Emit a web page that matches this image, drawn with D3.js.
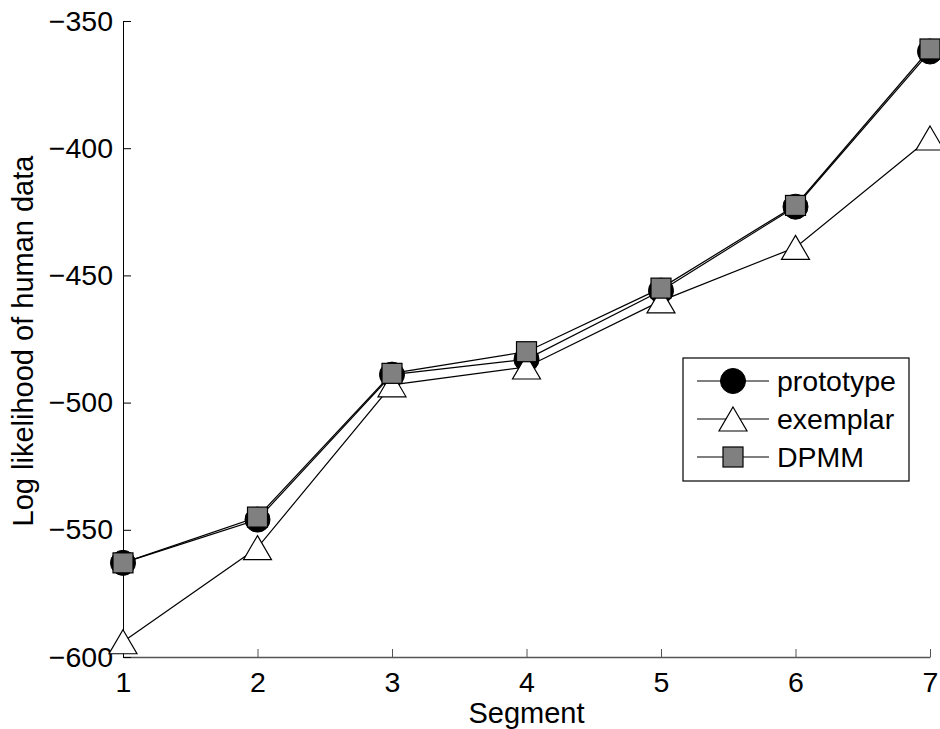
<!DOCTYPE html>
<html>
<head>
<meta charset="utf-8">
<script src="https://d3js.org/d3.v7.min.js"></script>
<style>
  body { margin: 0; background: #fff; }
  text { font-family: "Liberation Sans", Arial, Helvetica, sans-serif; fill: #000; }
</style>
</head>
<body>
<div id="chart"></div>
<script>
const segments = [1, 2, 3, 4, 5, 6, 7]
const prototype = [-563, -546, -489, -483, -456, -423, -362]
const exemplar = [-594, -557, -493, -486, -460, -439, -396]
const dpmm = [-563, -545, -488.5, -480, -455, -422.5, -361]
const yTicks = [-600, -550, -500, -450, -400, -350]
const seriesNames = ["prototype", "exemplar", "DPMM"]

const W = 940, H = 729
const margin = {top: 21, right: 10, bottom: 72, left: 123}
const fontSize = "28.5px"

const svg = d3.select("#chart").append("svg")
  .attr("width", W)
  .attr("height", H)

const x = d3.scaleLinear().domain([1, 7]).range([margin.left, W - margin.right])
const y = d3.scaleLinear().domain([-600, -350]).range([H - margin.bottom, margin.top])

// marker shapes, drawn around (0,0)
const markers = {
  circle: g => g.append("circle").attr("r", 12.5).attr("fill", "#000").attr("stroke", "#000"),
  triangle: g => g.append("path").attr("d", "M0,-12L14,12L-14,12Z")
    .attr("fill", "#fff").attr("stroke", "#000").attr("stroke-width", 1.2),
  square: g => g.append("rect").attr("x", -10).attr("y", -10).attr("width", 20).attr("height", 20)
    .attr("fill", "#808080").attr("stroke", "#000").attr("stroke-width", 1.2)
}

const series = [
  {name: seriesNames[0], values: prototype, marker: "circle"},
  {name: seriesNames[1], values: exemplar, marker: "triangle"},
  {name: seriesNames[2], values: dpmm, marker: "square"}
]

// axes
const xAxis = svg.append("g")
  .attr("transform", "translate(0," + y(-600) + ")")
  .call(d3.axisBottom(x).tickValues(segments).tickFormat(d3.format("d"))
    .tickSizeInner(-8).tickSizeOuter(0).tickPadding(15))
xAxis.select(".domain").attr("stroke", "#555").attr("stroke-width", 1.5)
xAxis.selectAll(".tick line").attr("stroke", "#555")
xAxis.selectAll("text").style("font-size", fontSize)

const yAxis = svg.append("g")
  .attr("transform", "translate(" + x(1) + ",0)")
  .call(d3.axisLeft(y).tickValues(yTicks).tickSizeInner(-8).tickSizeOuter(0).tickPadding(10))
yAxis.selectAll("text").style("font-size", fontSize)

svg.append("text")
  .attr("x", (x(1) + x(7)) / 2)
  .attr("y", 723)
  .attr("text-anchor", "middle")
  .style("font-size", "29px")
  .text("Segment")

svg.append("text")
  .attr("transform", "translate(33," + (y(-475) + 2) + ") rotate(-90)")
  .attr("text-anchor", "middle")
  .style("font-size", "29px")
  .text("Log likelihood of human data")

// lines and markers
const line = d3.line()
  .x((d, i) => x(segments[i]))
  .y(d => y(d))

series.forEach(s => {
  const g = svg.append("g")
  g.append("path")
    .datum(s.values)
    .attr("fill", "none")
    .attr("stroke", "#000")
    .attr("stroke-width", 1.2)
    .attr("d", line)
  s.values.forEach((v, i) => {
    const m = g.append("g").attr("transform", "translate(" + x(segments[i]) + "," + y(v) + ")")
    markers[s.marker](m)
  })
})

// legend
const legend = svg.append("g").attr("transform", "translate(683,358)")
legend.append("rect")
  .attr("width", 226).attr("height", 123)
  .attr("fill", "#fff").attr("stroke", "#000").attr("stroke-width", 1.2)

series.forEach((s, i) => {
  const row = legend.append("g").attr("transform", "translate(0," + (23 + i * 38) + ")")
  row.append("line").attr("x1", 14).attr("x2", 86).attr("stroke", "#000").attr("stroke-width", 1.2)
  markers[s.marker](row.append("g").attr("transform", "translate(50,0)"))
  row.append("text")
    .attr("x", 94)
    .attr("dy", "0.36em")
    .style("font-size", fontSize)
    .text(s.name)
})
</script>
</body>
</html>
